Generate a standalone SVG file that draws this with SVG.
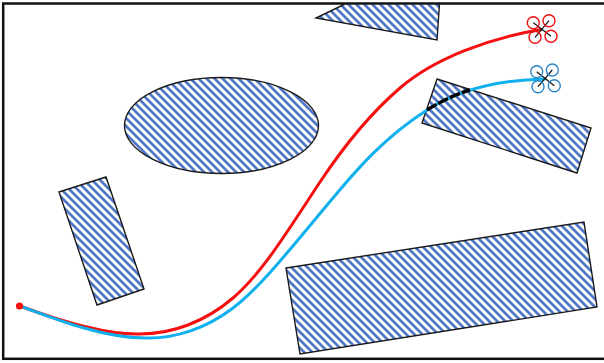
<svg xmlns="http://www.w3.org/2000/svg" width="604" height="363" viewBox="0 0 604 363">
<style>
.obs{fill:url(#hatch);stroke:#1a1a1a;stroke-width:1.4}
.path{fill:none;stroke-width:3;stroke-linecap:round}
.arm{stroke:#1a1a1a;stroke-width:1.3;fill:none}
.rr{fill:none;stroke:#f01010;stroke-width:1.4}
.br{fill:none;stroke:#2a86c8;stroke-width:1.4}
</style>
<defs>
<pattern id="hatch" patternUnits="userSpaceOnUse" width="8" height="8">
<rect width="8" height="8" fill="#fff"/>
<path d="M-4,-4 L12,12 M-4,4 L4,12 M4,-4 L12,4" stroke="#4f78c4" stroke-width="2.700" fill="none"/>
</pattern>
</defs>
<rect width="604" height="363" fill="#fff"/>
<rect id="frame" x="3.200" y="3.500" width="604" height="355.300" fill="none" stroke="#111" stroke-width="2.500"/>
<g id="obstacle-top"><polygon class="obs" points="345,4 439.500,4 437,40 316,18"/></g>
<g id="obstacle-ellipse"><ellipse class="obs" cx="221.500" cy="125.500" rx="97" ry="48"/></g>
<g id="obstacle-left"><polygon class="obs" points="59,192 106,177 144,289 97,305"/></g>
<g id="obstacle-right"><polygon class="obs" points="437,79 591,128 577,173 422,123"/></g>
<g id="obstacle-bottom"><polygon class="obs" points="286,268 584,222 597,307 300,354"/></g>
<g id="connectors">
<path class="path" stroke="#f50f0f" d="M20,306 C60,321 105,335 140,334 C172,334 205,322 233,298 C262,273 285,235 320,182 C340,152 365,118 400,88 C435,58 490,38 541,29.500"/>
<path class="path" stroke="#10b0ee" d="M20,306 C60,321 105,338 145,338 C175,339 207,328 233,308 C262,286 295,243 333,198 C358,168 385,137 427,110 C455,92 495,80 545,79"/>
<path fill="none" stroke="#000" stroke-width="3.400" stroke-dasharray="11 2" d="M427,110 C438,103 453,95 470,90"/>
<circle cx="19.500" cy="306" r="3.600" fill="#f50f0f"/>
</g>
<g id="drone-red">
<path class="arm" d="M533.300,22.700 L551,36.300 M549,20.700 L535,37.300"/>
<circle class="rr" cx="533.300" cy="22.700" r="6"/><circle class="rr" cx="549" cy="20.700" r="6"/><circle class="rr" cx="535" cy="37.300" r="6"/><circle class="rr" cx="551" cy="36.300" r="6"/>
</g>
<g id="drone-blue">
<path class="arm" d="M536.700,71.700 L554.300,85.700 M552.300,70 L538,86.700"/>
<circle class="br" cx="536.700" cy="71.700" r="6"/><circle class="br" cx="552.300" cy="70" r="6"/><circle class="br" cx="538" cy="86.700" r="6"/><circle class="br" cx="554.300" cy="85.700" r="6"/>
</g>
</svg>
